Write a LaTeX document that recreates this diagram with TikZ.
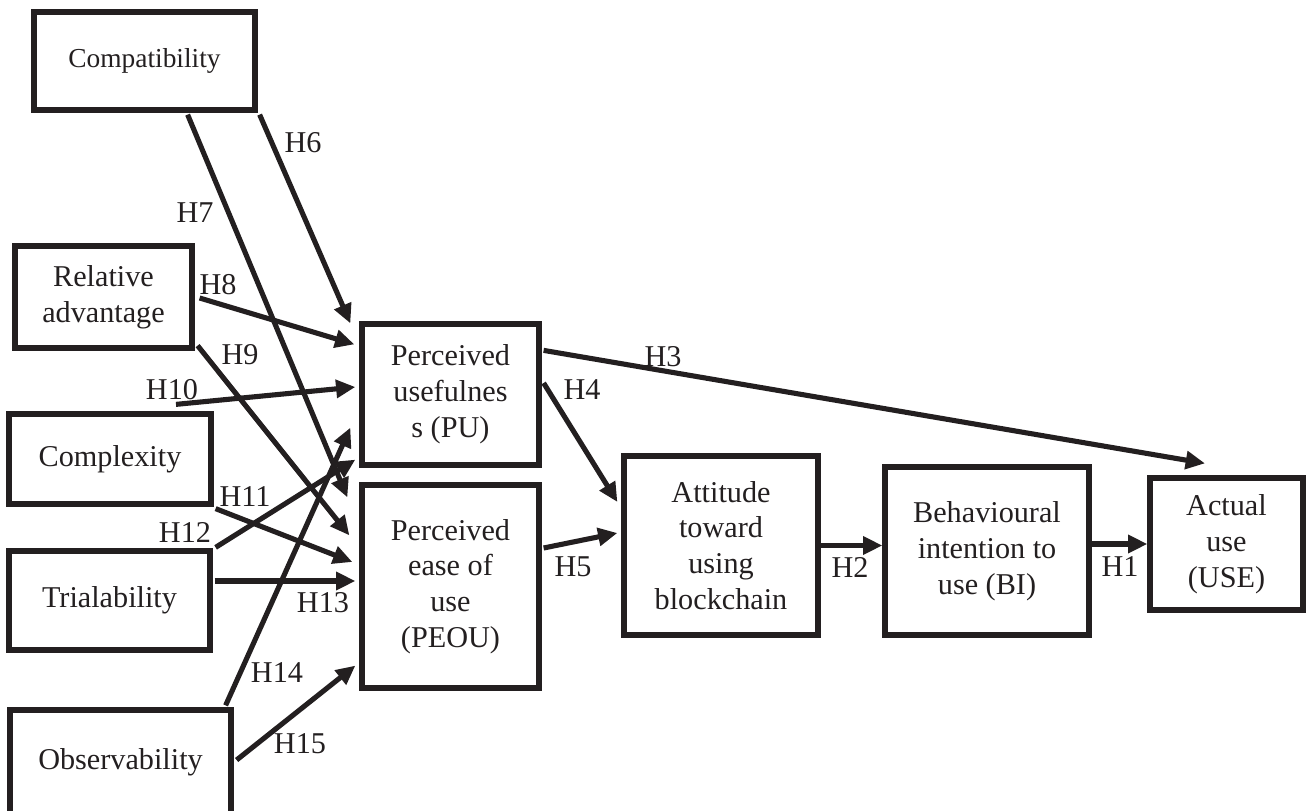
\documentclass[tikz,border=0pt]{standalone}
\usepackage{fontspec}
\setmainfont{Liberation Serif}
\usetikzlibrary{arrows.meta,calc}
\definecolor{ink}{HTML}{231F20}

\begin{document}
\begin{tikzpicture}[x=0.02cm,y=-0.02cm, color=ink,
    box/.style={draw, line width=3pt, align=center, inner sep=0pt, font=\fontsize{17.2}{20.4}\selectfont},
    arr/.style={line width=2.9pt, -{Triangle[length=11pt,width=10pt]}},
    lbl/.style={inner sep=0pt, font=\fontsize{17.2}{20.4}\selectfont}]
  \useasboundingbox (0,0) rectangle (1312,811);
  % constructs
  \node[box, minimum width=4.42cm, minimum height=1.96cm, font=\fontsize{15.6}{19}\selectfont] (comp) at (144.5,61) {Compatibility};
  \node[box, minimum width=3.54cm, minimum height=2.04cm] (rel) at (103.5,297) {Relative\\advantage};
  \node[box, minimum width=4.04cm, minimum height=1.8cm] (cplx) at (110,459) {Complexity};
  \node[box, minimum width=4.02cm, minimum height=1.98cm] (trial) at (109.5,600.5) {Trialability};
  \node[box, minimum width=4.42cm, minimum height=2.1cm] (obs) at (120.5,762.5) {Observability};
  \node[box, minimum width=3.54cm, minimum height=2.82cm] (pu) at (450.5,394.5) {Perceived\\usefulnes\\s (PU)};
  \node[box, minimum width=3.54cm, minimum height=4.06cm] (peou) at (450.5,586.5) {Perceived\\ease of\\use\\(PEOU)};
  \node[box, minimum width=3.88cm, minimum height=3.58cm] (att) at (721,545.5) {Attitude\\toward\\using\\blockchain};
  \node[box, minimum width=4.08cm, minimum height=3.36cm] (bi) at (987,551) {Behavioural\\intention to\\use (BI)};
  \node[box, minimum width=3.06cm, minimum height=2.64cm] (use) at (1226.5,544) {Actual\\use\\(USE)};
  % paths
  \draw[arr] ($(comp.south east)+(2,2)$) -- ($(pu.north west)+(-9,2)$);
  \draw[arr] ($(comp.south east)+(-70,2)$) -- ($(peou.north west)+(-12,15)$);
  \draw[arr] ($(rel.east)+(5,1)$) -- ($(pu.north west)+(-5,23)$);
  \draw[arr] ($(rel.south east)+(3,-5)$) -- ($(peou.north west)+(-10,53)$);
  \draw[arr] ($(cplx.north)+(66,-7)$) -- ($(pu.west)+(-4,-7.5)$);
  \draw[arr] ($(cplx.south east)+(2,2)$) -- ($(peou.west)+(-7,-24.5)$);
  \draw[arr] ($(trial.north east)+(3,-1)$) -- ($(pu.south west)+(-4,-8)$);
  \draw[arr] ($(trial.east)+(2,-19.5)$) -- ($(peou.west)+(-4,-5.5)$);
  \draw[arr] ($(obs.north east)+(-8,-2)$) -- ($(pu.south west)+(-9,-40)$);
  \draw[arr] ($(obs.east)+(3,-2.5)$) -- ($(peou.south west)+(-4,-25)$);
  \draw[arr] ($(pu.north east)+(2,29)$) -- ($(use.north)+(-21.5,-12)$);
  \draw[arr] ($(pu.east)+(2,-11.5)$) -- ($(att.west)+(-4,-43.5)$);
  \draw[arr] ($(peou.east)+(2,-38.5)$) -- ($(att.west)+(-4,-12.5)$);
  \draw[arr] (att.east) -- (att.east -| bi.west);
  \draw[arr] (bi.east |- use.west) -- (use.west);
  % hypotheses
  \node[lbl] (h1) at (1120,567) {H1};
  \node[lbl] (h2) at (850,567) {H2};
  \node[lbl] (h3) at (663,357) {H3};
  \node[lbl] (h4) at (582,390) {H4};
  \node[lbl] (h5) at (573,567) {H5};
  \node[lbl] (h6) at (303,143) {H6};
  \node[lbl] (h7) at (195,213) {H7};
  \node[lbl] (h8) at (218,285) {H8};
  \node[lbl] (h9) at (240,355) {H9};
  \node[lbl] (h10) at (172,390) {H10};
  \node[lbl] (h11) at (245,497) {H11};
  \node[lbl] (h12) at (185,532) {H12};
  \node[lbl] (h13) at (323,603) {H13};
  \node[lbl] (h14) at (277,673) {H14};
  \node[lbl] (h15) at (300,744) {H15};
\end{tikzpicture}
\end{document}
